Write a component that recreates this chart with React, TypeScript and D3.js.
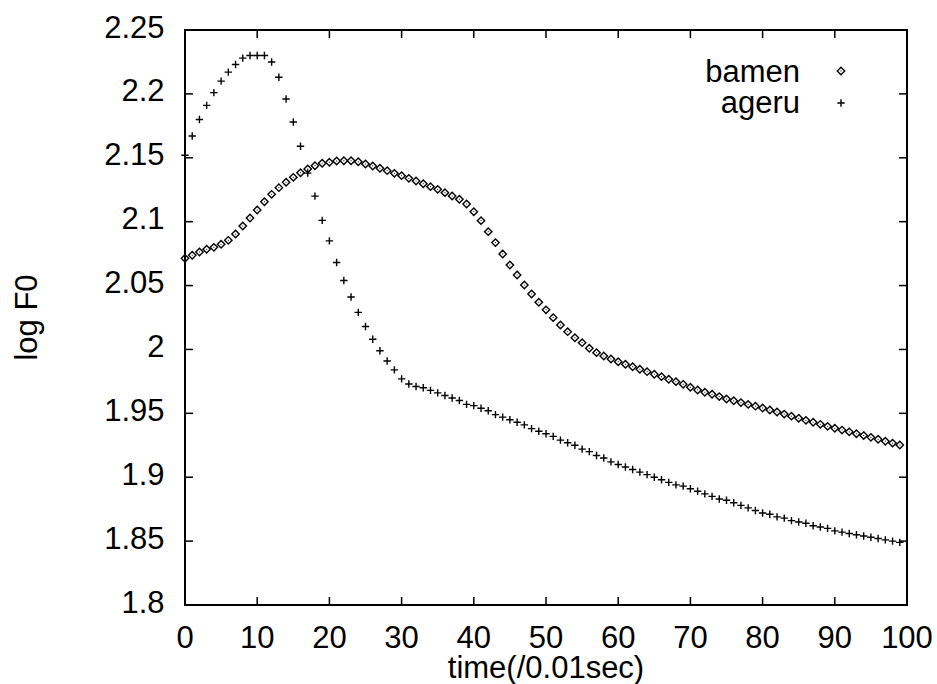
import React from "react";
import * as d3 from "d3";

const xTicks = [0, 10, 20, 30, 40, 50, 60, 70, 80, 90, 100];
const yTicks = [1.8, 1.85, 1.9, 1.95, 2, 2.05, 2.1, 2.15, 2.2, 2.25];
const yTickLabels = ["1.8", "1.85", "1.9", "1.95", "2", "2.05", "2.1", "2.15", "2.2", "2.25"];
const seriesNames = ["bamen", "ageru"];

const bamen = [
  2.0713, 2.0737, 2.0763, 2.0784, 2.0799, 2.0823, 2.0854, 2.0903, 2.0966, 2.1029,
  2.1091, 2.1156, 2.1214, 2.1266, 2.1308, 2.1347, 2.1383, 2.1412, 2.1438, 2.1457,
  2.1465, 2.1475, 2.1477, 2.1477, 2.1469, 2.1451, 2.1436, 2.1418, 2.1399, 2.1378,
  2.1360, 2.1339, 2.1318, 2.1297, 2.1274, 2.1253, 2.1227, 2.1201, 2.1175, 2.1138,
  2.1078, 2.1008, 2.0922, 2.0836, 2.0747, 2.0661, 2.0583, 2.0504, 2.0434, 2.0369,
  2.0310, 2.0249, 2.0191, 2.0139, 2.0092, 2.0053, 2.0009, 1.9975, 1.9949, 1.9925,
  1.9904, 1.9884, 1.9865, 1.9845, 1.9826, 1.9806, 1.9787, 1.9767, 1.9748, 1.9727,
  1.9704, 1.9683, 1.9665, 1.9649, 1.9631, 1.9612, 1.9598, 1.9584, 1.9570, 1.9556,
  1.9542, 1.9526, 1.9510, 1.9494, 1.9478, 1.9461, 1.9445, 1.9430, 1.9414, 1.9398,
  1.9383, 1.9369, 1.9355, 1.9340, 1.9326, 1.9312, 1.9297, 1.9282, 1.9267, 1.9252,
];

const ageru = [
  2.152, 2.167, 2.180, 2.191, 2.201, 2.210, 2.217, 2.223, 2.228, 2.230,
  2.230, 2.230, 2.225, 2.213, 2.196, 2.178, 2.159, 2.138, 2.120, 2.101,
  2.085, 2.068, 2.054, 2.041, 2.029, 2.018, 2.008, 1.999, 1.991, 1.984,
  1.977, 1.973, 1.971, 1.970, 1.968, 1.966, 1.964, 1.962, 1.960, 1.957,
  1.956, 1.954, 1.952, 1.949, 1.947, 1.945, 1.943, 1.941, 1.938, 1.936,
  1.934, 1.932, 1.929, 1.927, 1.925, 1.922, 1.920, 1.917, 1.915, 1.912,
  1.910, 1.908, 1.906, 1.904, 1.902, 1.900, 1.898, 1.896, 1.894, 1.893,
  1.891, 1.889, 1.887, 1.885, 1.883, 1.882, 1.880, 1.878, 1.876, 1.874,
  1.872, 1.871, 1.869, 1.868, 1.866, 1.865, 1.864, 1.862, 1.861, 1.860,
  1.858, 1.857, 1.856, 1.855, 1.854, 1.853, 1.852, 1.851, 1.850, 1.849,
];

const W = 937;
const H = 684;
const L = 185, R = 907, T = 30, B = 605;
const FONT = "'Liberation Sans', Arial, Helvetica, sans-serif";
const FS = 31;

function Diamond({ x, y }: { x: number; y: number }) {
  const r = 3.7;
  return (
    <g>
      <path
        d={`M${x},${y - r}L${x + r},${y}L${x},${y + r}L${x - r},${y}Z`}
        fill="white"
        stroke="black"
        strokeWidth={1.4}
      />
      <rect x={x - 0.5} y={y - 0.5} width={1} height={1} fill="black" />
    </g>
  );
}

function Plus({ x, y }: { x: number; y: number }) {
  const r = 3.7;
  return (
    <path
      d={`M${x - r},${y}H${x + r}M${x},${y - r}V${y + r}`}
      stroke="black"
      strokeWidth={1.4}
      fill="none"
    />
  );
}

export default function App() {
  const x = d3.scaleLinear().domain([0, 100]).range([L, R]);
  const y = d3.scaleLinear().domain([1.8, 2.25]).range([B, T]);
  const tickLen = 8;

  return (
    <svg
      width={W}
      height={H}
      style={{ position: "absolute", left: 0, top: 0, background: "white" }}
      fontFamily={FONT}
    >
      <rect x={0} y={0} width={W} height={H} fill="white" />
      {xTicks.map((t) => (
        <g key={"xt" + t}>
          <line x1={x(t)} x2={x(t)} y1={B} y2={B - tickLen} stroke="black" strokeWidth={1.5} />
          <line x1={x(t)} x2={x(t)} y1={T} y2={T + tickLen} stroke="black" strokeWidth={1.5} />
          <text x={x(t)} y={B + 43} textAnchor="middle" fontSize={FS} fill="black">
            {t}
          </text>
        </g>
      ))}
      {yTicks.map((t, i) => (
        <g key={"yt" + t}>
          <line x1={L} x2={L + tickLen} y1={y(t)} y2={y(t)} stroke="black" strokeWidth={1.5} />
          <line x1={R} x2={R - tickLen} y1={y(t)} y2={y(t)} stroke="black" strokeWidth={1.5} />
          <text x={164.5} y={y(t) + 7.5} textAnchor="end" fontSize={FS} fill="black">
            {yTickLabels[i]}
          </text>
        </g>
      ))}
      {bamen.map((v, i) => (
        <Diamond key={"b" + i} x={x(i)} y={y(v)} />
      ))}
      {ageru.map((v, i) => (
        <Plus key={"a" + i} x={x(i)} y={y(v)} />
      ))}
      <rect x={L} y={T} width={R - L} height={B - T} fill="none" stroke="black" strokeWidth={2} />
      <text x={(L + R) / 2} y={678} textAnchor="middle" fontSize={FS} fill="black">
        time(/0.01sec)
      </text>
      <text
        transform={`translate(37,${(T + B) / 2}) rotate(-90)`}
        textAnchor="middle"
        fontSize={FS}
        fill="black"
      >
        log F0
      </text>
      <text x={800} y={82} textAnchor="end" fontSize={FS} fill="black">
        {seriesNames[0]}
      </text>
      <Diamond x={841} y={71} />
      <text x={800} y={113} textAnchor="end" fontSize={FS} fill="black">
        {seriesNames[1]}
      </text>
      <Plus x={841} y={103} />
    </svg>
  );
}
